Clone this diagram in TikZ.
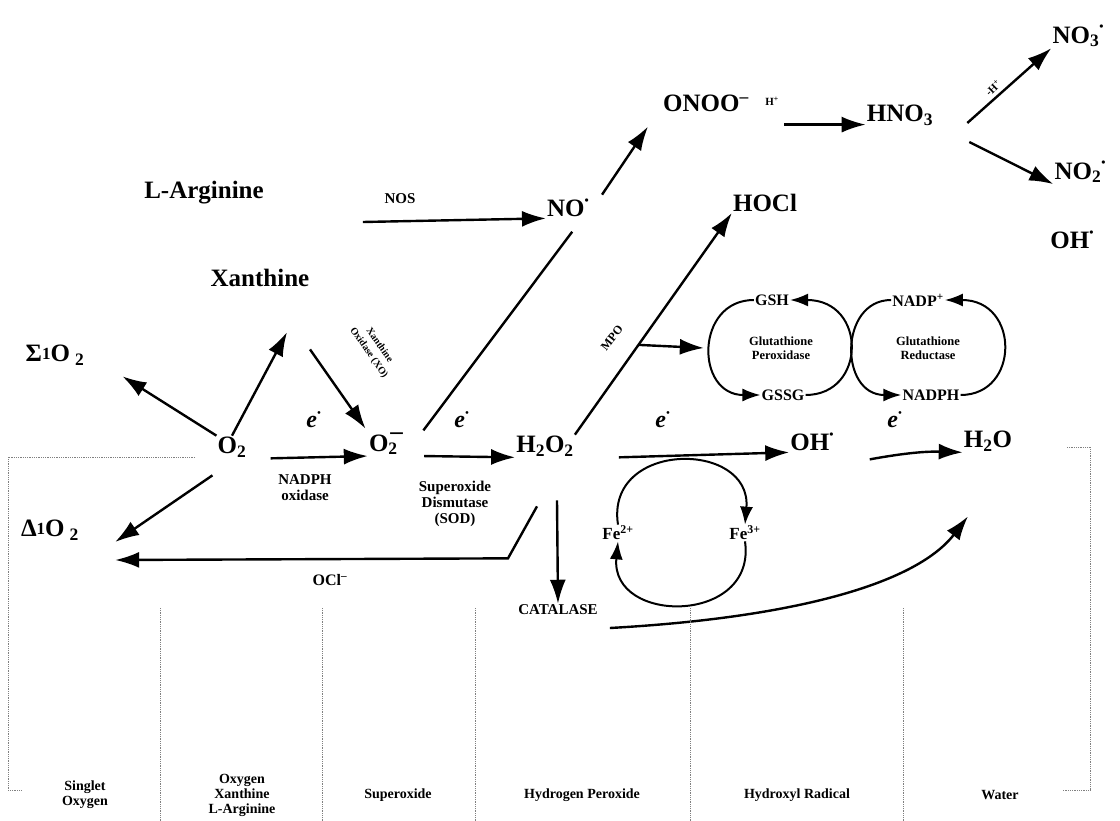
\documentclass[tikz,border=0pt]{standalone}
\usepackage{fontspec}
\setmainfont{Liberation Serif}
\usetikzlibrary{arrows.meta,calc}
\newcommand{\rdot}{\raisebox{0.5em}{\fontsize{12}{12}\selectfont •}}

\begin{document}
\begin{tikzpicture}[
    x=1pt, y=-1pt,
    species/.style={font=\fontsize{25}{28}\selectfont\bfseries, inner sep=1pt},
    enzyme/.style={font=\fontsize{15}{16}\selectfont\bfseries, align=center, inner sep=1pt},
    pair/.style={font=\fontsize{16}{17}\selectfont\bfseries, inner sep=1pt},
    smalllabel/.style={font=\fontsize{11}{12}\selectfont\bfseries, align=center, inner sep=1pt},
    elec/.style={font=\fontsize{24}{26}\selectfont\bfseries\itshape, inner sep=1pt},
    flow/.style={-{Latex[length=24pt,width=16pt]}, line width=2.4pt},
    ring/.style={-{Latex[length=18pt,width=13pt]}, line width=2pt},
    divider/.style={densely dotted, line width=0.8pt, black!50},
    collabel/.style={font=\fontsize{14}{15}\selectfont\bfseries, align=center}
]
\useasboundingbox (0,0) rectangle (1120,821);

% species
\node[species] (no3) at (1078,36) {NO\textsubscript{3}\rdot};
\node[species] (onoo) at (706,103) {ONOO\textsuperscript{–}};
\node[species] (hno3) at (900,115) {HNO\textsubscript{3}};
\node[species] (no2) at (1080,172) {NO\textsubscript{2}\rdot};
\node[species] (ohtop) at (1072,240) {OH\rdot};
\node[species] (larg) at (204,193) {L-Arginine};
\node[species] (no) at (568,208) {NO\rdot};
\node[species] (hocl) at (765,203) {HOCl};
\node[species] (xan) at (260,278) {Xanthine};
\node[species] (sig) at (55,355) {Σ\raisebox{2pt}{\fontsize{17}{17}\selectfont 1}O\hspace{5pt}\textsubscript{2}};
\node[species] (o2) at (232,447) {O\textsubscript{2}};
\node[species] (o2m) at (386,444) {O\rlap{\textsubscript{2}}\raisebox{0.45em}{\hspace{2pt}–}};
\node[species] (h2o2) at (545,446) {H\textsubscript{2}O\textsubscript{2}};
\node[species] (oh) at (812,442) {OH\rdot};
\node[species] (h2o) at (988,441) {H\textsubscript{2}O};
\node[species] (del) at (50,530) {Δ\raisebox{2pt}{\fontsize{17}{17}\selectfont 1}O\hspace{5pt}\textsubscript{2}};

% enzymes and small labels
\node[enzyme] (nos) at (400,199) {NOS};
\node[smalllabel] (hplus) at (772,101) {H\textsuperscript{+}};
\node[smalllabel, rotate=44] (mhplus) at (993,88) {-H\textsuperscript{+}};
\node[enzyme] (nox) at (305,488) {NADPH\\oxidase};
\node[enzyme] (sod) at (455,504) {Superoxide\\Dismutase\\(SOD)};
\node[pair] (ocl) at (330,580) {OCl\textsuperscript{–}};
\node[enzyme] (cat) at (558,610) {CATALASE};
\node[smalllabel, font=\fontsize{12}{13}\selectfont\bfseries, rotate=52] (mpo) at (612,338) {MPO};
\node[smalllabel, font=\fontsize{10}{13}\selectfont\bfseries, rotate=-55] (xo) at (374,349) {Xanthine\\Oxidase (XO)};
\node[pair, font=\fontsize{17}{18}\selectfont\bfseries] (fe2) at (618,533) {Fe\textsuperscript{2+}};
\node[pair, font=\fontsize{17}{18}\selectfont\bfseries] (fe3) at (745,533) {Fe\textsuperscript{3+}};

% glutathione cycles
\node[pair] (gsh) at (772,300) {GSH};
\node[pair] (gssg) at (783,395) {GSSG};
\node[smalllabel, font=\fontsize{12.5}{14}\selectfont\bfseries] (gpx) at (781,348) {Glutathione\\Peroxidase};
\node[pair] (nadp) at (918,300) {NADP\textsuperscript{+}};
\node[pair] (nadph) at (931,395) {NADPH};
\node[smalllabel, font=\fontsize{12.5}{14}\selectfont\bfseries] (gr) at (928,348) {Glutathione\\Reductase};

% electrons
\node[elec] (e1) at (314,420) {e\textsuperscript{·}};
\node[elec] (e2) at (462,420) {e\textsuperscript{·}};
\node[elec] (e3) at (663,420) {e\textsuperscript{·}};
\node[elec] (e4) at (895,420) {e\textsuperscript{·}};

% reactions
\draw[flow] ([shift={(98,29)}]larg.east) -- (no.south west);
\draw[flow] ([shift={(12,-3)}]no.north east) -- ([shift={(-14,14)}]onoo.south west);
\draw[line width=2.4pt, shorten <=2pt, shorten >=8pt] ([xshift=18pt]o2m.north east) -- ([shift={(9,7)}]no.south);
\draw[flow] ([shift={(34,12)}]onoo.south east) coordinate (hstart) -- (hstart -| hno3.west);
\draw[flow] ([shift={(33,8)}]hno3.east) -- (no3.south west);
\draw[flow] ([shift={(35,27)}]hno3.east) -- (no2.south west);

\draw[flow] (o2.north west) -- ([shift={(37,10)}]sig.south east);
\draw[flow, shorten >=50pt] (o2.north) -- (xan.south east);
\draw[flow, shorten <=75pt, shorten >=4pt] (xan) -- (o2m.north west);
\draw[flow] ([shift={(-4,17)}]o2.south west) -- ([shift={(35,12)}]del.east);
\draw[flow] ([xshift=23pt]o2.south east) -- (o2m.south west);
\draw[flow] ([xshift=20pt]o2m.south east) -- (h2o2.south west);
\draw[flow] ([xshift=44pt]h2o2.south east) -- (oh.south west);
\draw[flow] ([shift={(35,7)}]oh.south east) to[bend left=6] (h2o.south west);
\draw[flow] (h2o2.north east) -- (hocl.south west);
\draw[flow] ($(h2o2.north east)!0.405!(hocl.south west)$) -- ([xshift=-44pt]gpx.west);
\draw[flow] ([shift={(12,43)}]h2o2.south) -- (cat.north);
\draw[flow] ([shift={(-8,49)}]h2o2.south) -- ++(-29,52) -- ([shift={(35,30)}]del.east);
\draw[flow] ([shift={(11,18)}]cat.east) .. controls (790,618) and (915,585) .. ([shift={(-20,64)}]h2o.south);

% iron cycle
\draw[ring] (fe2.north) .. controls (605,440) and (752,440) .. (fe3.north);
\draw[ring] (fe3.south) .. controls (757,625) and (610,625) .. (fe2.south);

% glutathione arcs
\draw[ring] (gsh.west) .. controls (695,300) and (695,395) .. (gssg.west);
\draw[ring] (gssg.east) .. controls (867,395) and (867,300) .. (gsh.east);
\draw[ring] (nadp.west) .. controls (839,300) and (839,395) .. (nadph.west);
\draw[ring] (nadph.east) .. controls (1020,395) and (1020,300) .. (nadp.east);

% columns
\foreach \x in {160,322,475,690,903}
    \draw[divider] (\x,608) -- (\x,821);
\draw[divider] (195,457) -- (8,457) -- (8,790) -- (22,790);
\draw[divider] (1067,447) -- (1090,447) -- (1090,790) -- (1062,790);

\node[collabel] (c1) at (85,795) {Singlet\\Oxygen};
\node[collabel] (c2) at (242,795) {Oxygen\\Xanthine\\L-Arginine};
\node[collabel] (c3) at (398,795) {Superoxide};
\node[collabel] (c4) at (582,795) {Hydrogen Peroxide};
\node[collabel] (c5) at (797,795) {Hydroxyl Radical};
\node[collabel] (c6) at (1000,795) {Water};
\end{tikzpicture}
\end{document}
